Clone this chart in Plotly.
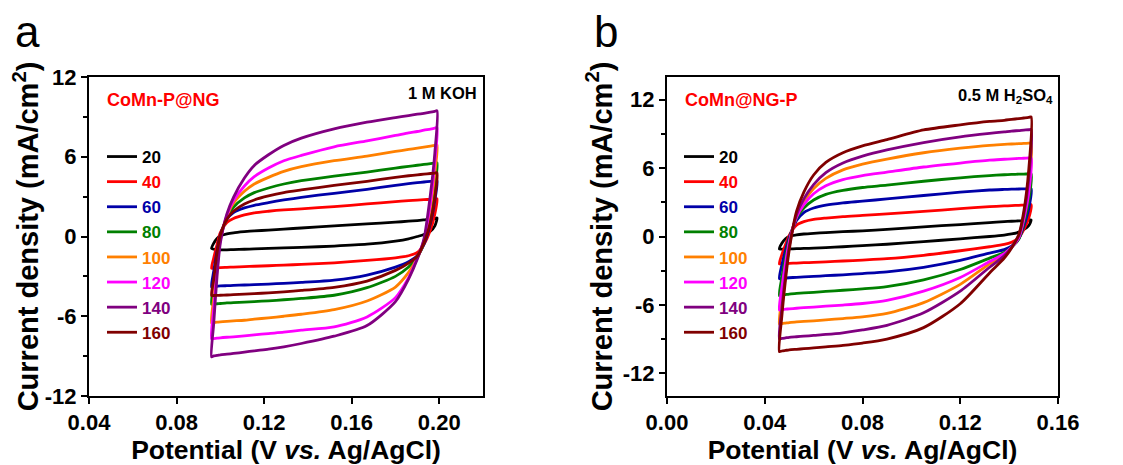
import plotly.graph_objects as go

# ---------------- data ----------------
scan_rates = ["20", "40", "60", "80", "100", "120", "140", "160"]
colors = ["#000000", "#ff0000", "#0000a8", "#008000", "#ff8000", "#ff00ff", "#800080", "#800000"]

# Panel a: CoMn-P@NG, 1 M KOH  (upper = anodic branch, lower = cathodic branch)
potential_a = [0.096, 0.097, 0.0985, 0.100, 0.103, 0.106, 0.111, 0.1155, 0.122, 0.129,
               0.137, 0.152, 0.167, 0.180, 0.186, 0.190, 0.193, 0.196, 0.198, 0.199]
upper_a = {
    "20":  [-0.9, -0.5, -0.15, 0.05, 0.2, 0.28, 0.36, 0.42, 0.48, 0.56, 0.64, 0.8, 0.95, 1.08, 1.15, 1.2, 1.25, 1.3, 1.35, 1.4],
    "40":  [-2.4, -1.6, -0.6, 0.3, 1.05, 1.35, 1.62, 1.78, 1.9, 2.0, 2.08, 2.25, 2.45, 2.62, 2.7, 2.74, 2.77, 2.8, 2.83, 2.85],
    "60":  [-3.8, -2.6, -1.1, 0.1, 1.3, 1.8, 2.15, 2.35, 2.55, 2.75, 2.95, 3.25, 3.55, 3.85, 3.97, 4.05, 4.1, 4.15, 4.18, 4.2],
    "80":  [-5.1, -3.6, -1.6, -0.1, 1.4, 2.2, 2.9, 3.3, 3.65, 3.95, 4.2, 4.55, 4.85, 5.15, 5.28, 5.36, 5.42, 5.48, 5.52, 5.55],
    "100": [-6.5, -4.6, -2.1, -0.2, 1.5, 2.5, 3.4, 3.95, 4.45, 4.9, 5.25, 5.7, 6.05, 6.4, 6.55, 6.65, 6.72, 6.8, 6.86, 6.9],
    "120": [-7.7, -5.4, -2.5, -0.3, 1.6, 2.7, 3.8, 4.5, 5.15, 5.7, 6.1, 6.75, 7.2, 7.6, 7.8, 7.9, 8.0, 8.08, 8.15, 8.2],
    "140": [-9.06, -6.5, -3.0, -0.5, 1.7, 2.95, 4.4, 5.35, 6.15, 6.85, 7.4, 8.1, 8.6, 8.95, 9.1, 9.2, 9.27, 9.35, 9.42, 9.46],
    "160": [-4.45, -3.2, -1.2, 0.1, 1.3, 1.9, 2.45, 2.75, 3.05, 3.3, 3.5, 3.85, 4.15, 4.45, 4.57, 4.64, 4.69, 4.74, 4.77, 4.8],
}
lower_a = {
    "20":  [-0.9, -0.95, -0.98, -1.0, -1.0, -0.98, -0.96, -0.93, -0.9, -0.86, -0.82, -0.72, -0.58, -0.35, -0.18, 0.0, 0.15, 0.4, 0.8, 1.4],
    "40":  [-2.4, -2.38, -2.36, -2.34, -2.32, -2.3, -2.27, -2.24, -2.2, -2.15, -2.1, -1.98, -1.8, -1.6, -1.45, -1.2, -0.6, 0.5, 1.7, 2.85],
    "60":  [-3.8, -3.78, -3.75, -3.72, -3.7, -3.68, -3.65, -3.62, -3.58, -3.52, -3.45, -3.28, -2.9, -2.3, -1.9, -1.45, -0.6, 1.0, 2.7, 4.2],
    "80":  [-5.1, -5.08, -5.06, -5.04, -5.0, -4.98, -4.94, -4.9, -4.84, -4.76, -4.66, -4.42, -3.85, -3.0, -2.3, -1.55, -0.5, 1.6, 3.7, 5.55],
    "100": [-6.5, -6.48, -6.45, -6.42, -6.38, -6.35, -6.3, -6.22, -6.12, -6.0, -5.85, -5.5, -4.85, -3.8, -2.7, -1.6, -0.4, 2.2, 4.8, 6.9],
    "120": [-7.7, -7.68, -7.65, -7.62, -7.58, -7.55, -7.48, -7.4, -7.3, -7.2, -7.05, -6.8, -6.05, -4.6, -3.1, -1.6, -0.3, 2.6, 5.7, 8.2],
    "140": [-9.06, -8.98, -8.95, -8.9, -8.85, -8.8, -8.7, -8.6, -8.48, -8.3, -8.05, -7.5, -6.7, -4.9, -3.2, -1.7, -0.2, 3.2, 6.3, 9.46],
    "160": [-4.45, -4.44, -4.43, -4.42, -4.4, -4.38, -4.34, -4.3, -4.24, -4.16, -4.06, -3.82, -3.35, -2.55, -2.0, -1.45, -0.5, 1.1, 2.9, 4.8],
}

# Panel b: CoMn@NG-P, 0.5 M H2SO4
potential_b = [0.046, 0.047, 0.0485, 0.050, 0.053, 0.056, 0.060, 0.065, 0.072, 0.080,
               0.090, 0.105, 0.120, 0.132, 0.138, 0.141, 0.144, 0.146, 0.148, 0.149]
upper_b = {
    "20":  [-1.1, -0.6, -0.2, 0.0, 0.15, 0.22, 0.28, 0.34, 0.42, 0.5, 0.62, 0.85, 1.05, 1.22, 1.3, 1.34, 1.37, 1.4, 1.43, 1.45],
    "40":  [-2.4, -1.6, -0.7, 0.1, 1.0, 1.3, 1.5, 1.62, 1.75, 1.85, 1.98, 2.2, 2.45, 2.62, 2.68, 2.71, 2.74, 2.76, 2.78, 2.8],
    "60":  [-3.7, -2.5, -1.2, -0.1, 1.4, 2.1, 2.5, 2.75, 2.95, 3.1, 3.3, 3.6, 3.9, 4.08, 4.13, 4.15, 4.17, 4.18, 4.19, 4.2],
    "80":  [-5.2, -3.6, -1.8, -0.3, 1.6, 2.5, 3.2, 3.7, 4.05, 4.3, 4.5, 4.85, 5.15, 5.35, 5.42, 5.45, 5.47, 5.48, 5.49, 5.5],
    "100": [-7.7, -5.4, -2.8, -0.7, 1.8, 3.05, 4.2, 5.1, 5.85, 6.35, 6.8, 7.35, 7.75, 8.0, 8.08, 8.12, 8.15, 8.17, 8.19, 8.2],
    "120": [-6.45, -4.5, -2.3, -0.5, 1.7, 2.8, 3.75, 4.45, 5.0, 5.35, 5.65, 6.1, 6.45, 6.7, 6.78, 6.82, 6.85, 6.87, 6.89, 6.9],
    "140": [-9.0, -6.3, -3.3, -0.9, 1.9, 3.3, 4.55, 5.6, 6.45, 7.05, 7.6, 8.25, 8.75, 9.05, 9.18, 9.25, 9.3, 9.34, 9.37, 9.4],
    "160": [-10.1, -7.0, -3.8, -1.2, 2.2, 3.9, 5.4, 6.5, 7.35, 7.95, 8.5, 9.35, 9.8, 10.1, 10.2, 10.28, 10.35, 10.4, 10.45, 10.5],
}
lower_b = {
    "20":  [-1.1, -1.1, -1.1, -1.09, -1.07, -1.05, -1.02, -0.97, -0.9, -0.8, -0.68, -0.45, -0.2, 0.0, 0.12, 0.22, 0.38, 0.6, 0.95, 1.45],
    "40":  [-2.4, -2.39, -2.38, -2.36, -2.33, -2.3, -2.27, -2.22, -2.15, -2.07, -1.95, -1.65, -1.25, -0.9, -0.7, -0.5, -0.1, 0.6, 1.6, 2.8],
    "60":  [-3.7, -3.68, -3.65, -3.62, -3.58, -3.54, -3.5, -3.44, -3.36, -3.25, -3.1, -2.7, -2.1, -1.45, -1.15, -0.85, -0.2, 0.9, 2.4, 4.2],
    "80":  [-5.2, -5.15, -5.1, -5.05, -5.0, -4.95, -4.9, -4.82, -4.72, -4.6, -4.4, -3.8, -2.9, -1.9, -1.4, -0.95, -0.2, 1.2, 3.1, 5.5],
    "100": [-7.7, -7.65, -7.6, -7.55, -7.5, -7.45, -7.4, -7.32, -7.2, -7.05, -6.75, -5.8, -4.2, -2.4, -1.6, -0.95, 0.0, 1.7, 4.4, 8.2],
    "120": [-6.45, -6.42, -6.38, -6.35, -6.3, -6.25, -6.2, -6.12, -6.02, -5.88, -5.6, -4.8, -3.6, -2.2, -1.5, -0.95, -0.1, 1.5, 3.8, 6.9],
    "140": [-9.0, -8.95, -8.9, -8.85, -8.8, -8.75, -8.68, -8.6, -8.45, -8.2, -7.8, -6.7, -4.8, -2.7, -1.7, -0.95, 0.1, 1.9, 5.0, 9.4],
    "160": [-10.1, -10.05, -10.0, -9.95, -9.9, -9.85, -9.78, -9.68, -9.55, -9.35, -9.0, -8.0, -5.9, -3.2, -1.9, -1.0, 0.2, 2.2, 5.8, 10.5],
}

xticks_a = [0.04, 0.08, 0.12, 0.16, 0.20]
xticks_b = [0.00, 0.04, 0.08, 0.12, 0.16]
yticks = [-12, -6, 0, 6, 12]
ytext = ["-12", "-6", "0", "6", "12"]

# ---------------- figure ----------------
# the page body keeps the browser's default 8 px margin, so the figure is
# sized to fill the rest of the 1123x465 window and positions are offset.
OFF = 8
W, H = 1123 - OFF, 465 - OFF
FONT = "Liberation Sans, Arial, sans-serif"

fig = go.Figure()


def loop(E, up, lo):
    xs = list(E) + list(E[::-1])[1:]
    ys = list(up) + list(lo[::-1])[1:]
    return xs, ys


for E, U, L, xa, ya, lg in [
        (potential_a, upper_a, lower_a, "x", "y", "legend"),
        (potential_b, upper_b, lower_b, "x2", "y2", "legend2")]:
    for rate, col in zip(scan_rates, colors):
        xs, ys = loop(E, U[rate], L[rate])
        fig.add_trace(go.Scatter(
            x=xs, y=ys, mode="lines", xaxis=xa, yaxis=ya,
            line=dict(color=col, width=2.8, shape="spline", smoothing=0.7),
            name=f'<span style="color:{col}">{rate}</span>',
            legend=lg, showlegend=True, hoverinfo="skip"))

px_x = lambda p: (p - OFF) / W
px_y = lambda p: 1 - (p - OFF) / H

tickfont = dict(family=FONT, size=22, color="black", weight="bold")
titlefont = dict(family=FONT, size=26.5, color="black", weight="bold")

common_x = dict(showgrid=False, zeroline=False, showline=True, linecolor="black",
                linewidth=2, mirror=True, ticks="outside", ticklen=6, tickwidth=2,
                tickcolor="black", tickfont=tickfont, automargin=False,
                title=dict(text="Potential (V <i>vs.</i> Ag/AgCl)", font=titlefont, standoff=6))
common_y = dict(showgrid=False, zeroline=False, showline=True, linecolor="black",
                linewidth=2, mirror=True, ticks="outside", ticklen=6, tickwidth=2,
                tickcolor="black", tickfont=tickfont, tickvals=yticks, ticktext=ytext,
                automargin=False,
                minor=dict(ticks="outside", ticklen=4, tickwidth=2, tickcolor="black", dtick=3, tick0=0),
                title=dict(text="Current density (mA/cm<sup>2</sup>)",
                           font=dict(family=FONT, size=29, color="black", weight="bold"), standoff=2))

ydom = [px_y(396), px_y(77)]

fig.update_layout(
    width=W, height=H, margin=dict(l=0, r=0, t=0, b=0, autoexpand=False),
    paper_bgcolor="white", plot_bgcolor="white",
    xaxis=dict(domain=[px_x(89), px_x(483)], range=[0.04, 0.22], anchor="y",
               tickvals=xticks_a, ticktext=[f"{v:.2f}" for v in xticks_a], **common_x),
    yaxis=dict(domain=ydom, range=[-12, 12], anchor="x", **common_y),
    xaxis2=dict(domain=[px_x(667), px_x(1058)], range=[0.0, 0.16], anchor="y2",
                tickvals=xticks_b, ticktext=[f"{v:.2f}" for v in xticks_b], **common_x),
    yaxis2=dict(domain=ydom, range=[-14, 14], anchor="x2", **common_y),
    legend=dict(x=px_x(102), y=px_y(139), xanchor="left", yanchor="top",
                bgcolor="rgba(0,0,0,0)", borderwidth=0,
                font=dict(family=FONT, size=17, weight="bold"), itemwidth=30,
                tracegroupgap=0),
    legend2=dict(x=px_x(679), y=px_y(139), xanchor="left", yanchor="top",
                 bgcolor="rgba(0,0,0,0)", borderwidth=0,
                 font=dict(family=FONT, size=17, weight="bold"), itemwidth=30,
                 tracegroupgap=0),
    showlegend=True,
)

ann = []
ann.append(dict(text="a", x=px_x(13), y=px_y(32), xref="paper", yref="paper",
                xanchor="left", yanchor="middle", showarrow=False,
                font=dict(family=FONT, size=44, color="black")))
ann.append(dict(text="b", x=px_x(592), y=px_y(32), xref="paper", yref="paper",
                xanchor="left", yanchor="middle", showarrow=False,
                font=dict(family=FONT, size=44, color="black")))
ann.append(dict(text="CoMn-P@NG", x=px_x(105), y=px_y(100), xref="paper", yref="paper",
                xanchor="left", yanchor="middle", showarrow=False,
                font=dict(family=FONT, size=18, color="#ff0000", weight="bold")))
ann.append(dict(text="1 M KOH", x=px_x(479), y=px_y(93), xref="paper", yref="paper",
                xanchor="right", yanchor="middle", showarrow=False,
                font=dict(family=FONT, size=16.5, color="black", weight="bold")))
ann.append(dict(text="CoMn@NG-P", x=px_x(683), y=px_y(100), xref="paper", yref="paper",
                xanchor="left", yanchor="middle", showarrow=False,
                font=dict(family=FONT, size=18, color="#ff0000", weight="bold")))
ann.append(dict(text="0.5 M H<sub>2</sub>SO<sub>4</sub>", x=px_x(1055), y=px_y(96), xref="paper", yref="paper",
                xanchor="right", yanchor="middle", showarrow=False,
                font=dict(family=FONT, size=16.5, color="black", weight="bold")))
fig.update_layout(annotations=ann)

fig.write_html("out.html")
